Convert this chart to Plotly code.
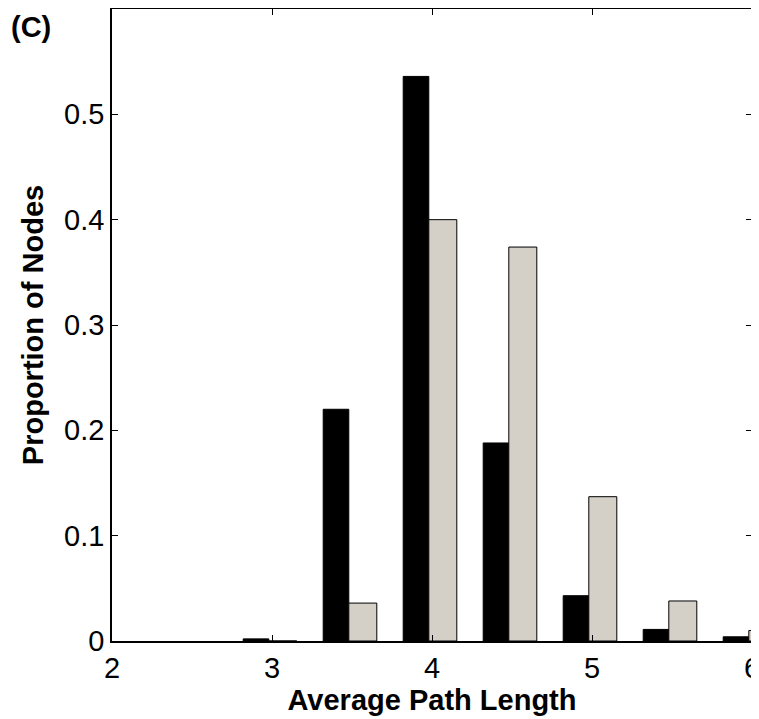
import plotly.graph_objects as go

# Bin centers (Average Path Length)
bin_centers = [2.98, 3.48, 3.98, 4.48, 4.98, 5.48, 5.98]
series_black = [0.002, 0.220, 0.536, 0.188, 0.043, 0.011, 0.004]
series_gray = [0.0, 0.036, 0.400, 0.374, 0.137, 0.038, 0.010]
x_ticks = [2, 3, 4, 5, 6]
y_ticks = [0, 0.1, 0.2, 0.3, 0.4, 0.5]
y_tick_labels = ["0", "0.1", "0.2", "0.3", "0.4", "0.5"]

OFF = 8  # default page body margin
W, H = 759 - OFF, 719 - OFF
L, R, T, B = 112 - OFF, 7, 9 - OFF, 78
pw, ph = W - L - R, H - T - B

FONT = "Liberation Sans, Arial, Helvetica, sans-serif"
FS = 29

fig = go.Figure()
fig.add_trace(go.Bar(
    x=bin_centers, y=series_black, width=0.16, offset=-0.16,
    marker=dict(color="black", line=dict(color="black", width=1)),
    showlegend=False,
))
fig.add_trace(go.Bar(
    x=bin_centers, y=series_gray, width=0.175, offset=0.0,
    marker=dict(color="#d4d0c8", line=dict(color="black", width=1)),
    showlegend=False,
))

fig.update_layout(
    width=W, height=H,
    margin=dict(l=L, r=R, t=T, b=B, autoexpand=False),
    paper_bgcolor="white", plot_bgcolor="white",
    barmode="overlay",
    font=dict(family=FONT, size=FS, color="black"),
    annotations=[dict(
        text="<b>(C)</b>", xref="paper", yref="paper",
        x=(9 - OFF - L) / pw, y=(H - B - (27 - OFF)) / ph,
        xanchor="left", yanchor="middle", showarrow=False,
        font=dict(family=FONT, size=FS, color="black"),
    )],
)
fig.update_xaxes(
    range=[2, 6], tickvals=x_ticks, ticks="inside", ticklen=6, tickcolor="black",
    showline=True, linecolor="black", linewidth=1.5, mirror="ticks",
    showgrid=False, zeroline=False, automargin=False, ticklabeloverflow="allow",
    title=dict(text="<b>Average Path Length</b>", font=dict(size=FS), standoff=6),
)
fig.update_yaxes(
    range=[0, 0.6], tickvals=y_ticks, ticktext=y_tick_labels,
    ticks="inside", ticklen=6, tickcolor="black",
    showline=True, linecolor="black", linewidth=1.5, mirror="ticks",
    showgrid=False, zeroline=False, automargin=False,
    title=dict(text="<b>Proportion of Nodes</b>", font=dict(size=FS), standoff=12),
)

fig.write_html("out.html")
